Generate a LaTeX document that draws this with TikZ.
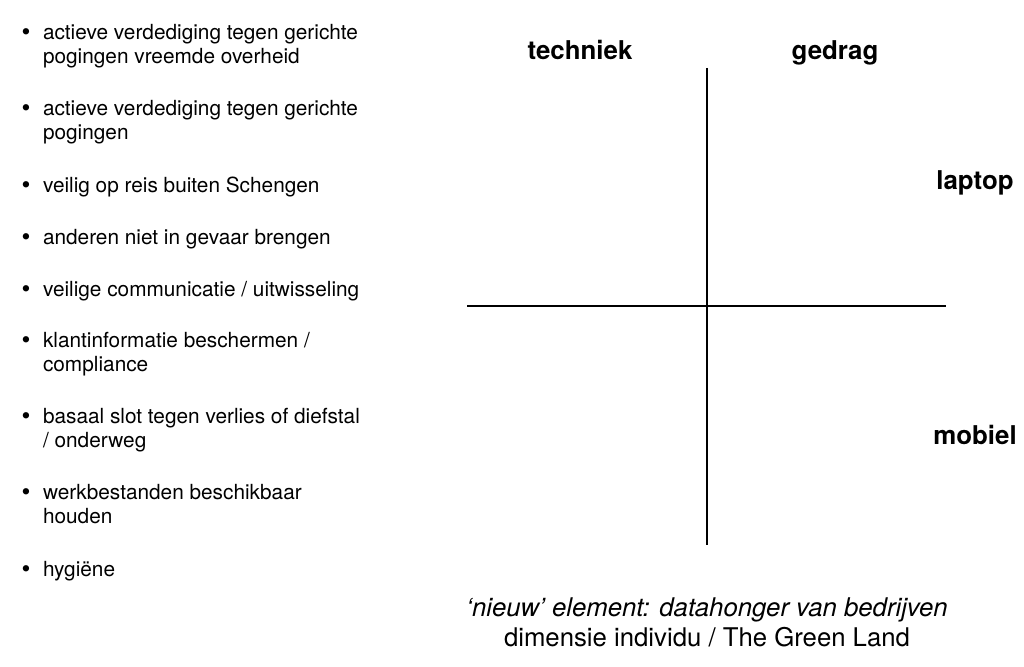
\documentclass[tikz,border=0pt]{standalone}
\usepackage{fontspec}
\setmainfont{TeX Gyre Heros}

\tikzset{every picture/.style={line width=1.5pt}}
\tikzset{
  bullettext/.style={anchor=base west,inner sep=0pt,font=\fontsize{15.6}{18}\selectfont},
  bulletmark/.style={anchor=base,inner sep=0pt,font=\fontsize{19}{18}\selectfont},
  headtext/.style={anchor=base,inner sep=0pt,font=\fontsize{19.4}{22}\selectfont\bfseries},
  foottext/.style={anchor=base,inner sep=0pt,font=\fontsize{19.3}{22}\selectfont}
}

\begin{document}
\begin{tikzpicture}[x=0.75pt,y=0.75pt,yscale=-1,xscale=1]
\useasboundingbox (0,0) rectangle (1024,667);

%Axes ends
\coordinate (top) at (707,68);
\coordinate (bottom) at (707,545);
\coordinate (left) at (467,306);
\coordinate (right) at (946,306);
%Straight Lines
\draw (top) -- (bottom);
%Straight Lines
\draw (left) -- (right);

% Text Node
\node (b1) [bulletmark] at (26,40.5) {\textbullet};
\node (t1a) [bullettext] at (42,39.5) {actieve verdediging tegen gerichte};
\node (t1b) [bullettext] at (42,63.5) {pogingen vreemde overheid};
% Text Node
\node (b2) [bulletmark] at (26,116.5) {\textbullet};
\node (t2a) [bullettext] at (42,115.5) {actieve verdediging tegen gerichte};
\node (t2b) [bullettext] at (42,139.5) {pogingen};
% Text Node
\node (b3) [bulletmark] at (26,193.5) {\textbullet};
\node (t3) [bullettext] at (42,192.5) {veilig op reis buiten Schengen};
% Text Node
\node (b4) [bulletmark] at (26,245.5) {\textbullet};
\node (t4) [bullettext] at (42,244.5) {anderen niet in gevaar brengen};
% Text Node
\node (b5) [bulletmark] at (26,297.5) {\textbullet};
\node (t5) [bullettext] at (42,296.5) {veilige communicatie / uitwisseling};
% Text Node
\node (b6) [bulletmark] at (26,348.5) {\textbullet};
\node (t6a) [bullettext] at (42,347.5) {klantinformatie beschermen /};
\node (t6b) [bullettext] at (42,371.5) {compliance};
% Text Node
\node (b7) [bulletmark] at (26,424.5) {\textbullet};
\node (t7a) [bullettext] at (42,423.5) {basaal slot tegen verlies of diefstal};
\node (t7b) [bullettext] at (42,447.5) {/ onderweg};
% Text Node
\node (b8) [bulletmark] at (26,500.5) {\textbullet};
\node (t8a) [bullettext] at (42,499.5) {werkbestanden beschikbaar};
\node (t8b) [bullettext] at (42,523.5) {houden};
% Text Node
\node (b9) [bulletmark] at (26,577.5) {\textbullet};
\node (t9) [bullettext] at (42,576.5) {hygiëne};

% Text Node
\node (techniek) [headtext] at (580,59.5) {techniek};
% Text Node
\node (gedrag) [headtext] at (835,59.5) {gedrag};
% Text Node
\node (laptop) [headtext] at (975,189.5) {laptop};
% Text Node
\node (mobiel) [headtext] at (975,444.5) {mobiel};

% Text Node
\node (nieuw) [foottext] at (707,616) {\itshape ‘nieuw’ element: datahonger van bedrijven};
% Text Node
\node (dimensie) [foottext] at (707,646) {dimensie individu / The Green Land};

\end{tikzpicture}
\end{document}
